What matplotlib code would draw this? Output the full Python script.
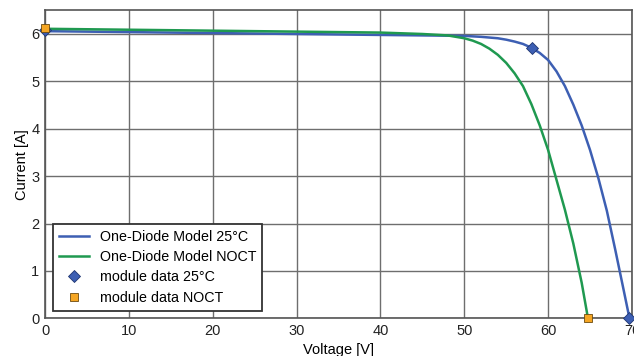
import matplotlib
matplotlib.use("Agg")
import matplotlib.pyplot as plt

plt.rcParams['font.family'] = ['Liberation Sans', 'DejaVu Sans']

# One-diode model, 25°C
v_25 = [0, 10, 20, 30, 40, 45, 50, 52, 54, 55, 56, 57, 58, 59, 60, 61, 62, 63, 64, 65, 66, 67, 68, 69, 69.7]
i_25 = [6.06, 6.04, 6.02, 6.00, 5.98, 5.97, 5.96, 5.94, 5.91, 5.88, 5.84, 5.79, 5.71, 5.60, 5.45, 5.21,
        4.90, 4.51, 4.07, 3.55, 2.95, 2.27, 1.45, 0.6, 0.0]

# One-diode model, NOCT
v_noct = [0, 10, 20, 30, 40, 45, 48, 50, 51, 52, 53, 54, 55, 56, 57, 58, 59, 60, 61, 62, 63, 64, 64.75]
i_noct = [6.11, 6.09, 6.07, 6.05, 6.03, 6.00, 5.97, 5.91, 5.86, 5.79, 5.69, 5.56, 5.39, 5.17, 4.90, 4.52,
          4.07, 3.55, 2.92, 2.29, 1.58, 0.75, 0.0]

# measured module data points (Isc, MPP, Voc)
v_data_25 = [0, 58.1, 69.7]
i_data_25 = [6.09, 5.70, 0.0]
v_data_noct = [0, 64.75]
i_data_noct = [6.13, 0.0]

blue = '#3d5fb3'
green = '#1f9950'
orange = '#f5a623'

fig = plt.figure(figsize=(6.34, 3.56), dpi=100)
ax = fig.add_axes([45 / 634, 1 - 318.3 / 356, 587 / 634, 308 / 356])

ax.plot(v_25, i_25, color=blue, lw=1.8, label='One-Diode Model 25°C', zorder=3)
ax.plot(v_noct, i_noct, color=green, lw=1.8, label='One-Diode Model NOCT', zorder=3)
ax.plot(v_data_25, i_data_25, 'D', color=blue, mec='#1f3570', mew=0.6, ms=6,
        ls='None', label='module data 25°C', zorder=5, clip_on=False)
ax.plot(v_data_noct, i_data_noct, 's', color=orange, mec='#6b4a10', mew=0.6, ms=6,
        ls='None', label='module data NOCT', zorder=6, clip_on=False)

ax.set_xlim(0, 70)
ax.set_ylim(0, 6.5)
ax.set_xticks(range(0, 71, 10))
ax.set_yticks(range(0, 7))
ax.grid(True, color='#6e6e6e', lw=1.0)
ax.set_axisbelow(True)
for s in ax.spines.values():
    s.set_color('#555555')
    s.set_linewidth(1.2)
ax.tick_params(length=0, pad=4, labelsize=10.5, colors='#222222')

ax.set_xlabel('Voltage [V]', fontsize=10.5, labelpad=4)
ax.set_ylabel('Current [A]', fontsize=10.5, labelpad=1.5)

lgnd = ax.legend(loc='lower left', bbox_to_anchor=(0.014, 0.025), borderaxespad=0.,
                 fontsize=10.3, fancybox=False, framealpha=1, edgecolor='#333333',
                 handlelength=2.1, handletextpad=0.75, labelspacing=0.45, borderpad=0.4)
lgnd.get_frame().set_linewidth(1.3)

plt.savefig('out.png', dpi=100)
plt.close()
